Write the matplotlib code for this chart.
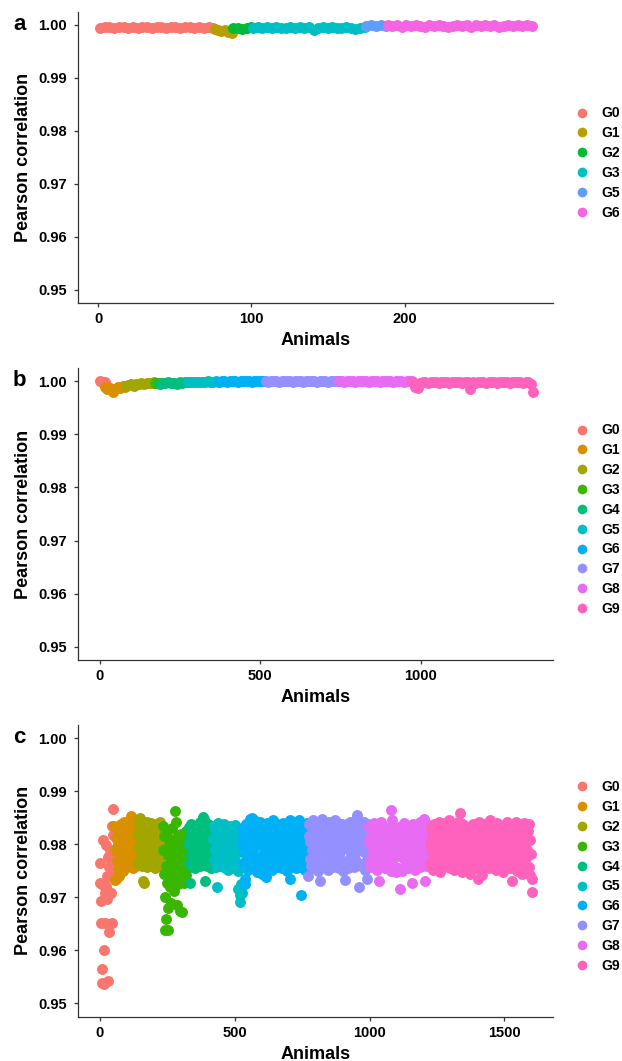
import numpy as np
import matplotlib
matplotlib.use("Agg")
import matplotlib.pyplot as plt
from matplotlib.lines import Line2D

plt.rcParams['font.family'] = ['Liberation Sans', 'DejaVu Sans']
plt.rcParams['font.weight'] = 'bold'

# ---------------- Panel a ----------------
a_groups = ["G0", "G1", "G2", "G3", "G5", "G6"]
a_start = [1, 76, 88, 101, 175, 189]
a_end = [75, 87, 100, 174, 188, 283]
a_G0 = [0.9995, 0.9997, 0.9996, 0.9994, 0.9996, 0.9997, 0.9995, 0.9996, 0.9994, 0.9997,
        0.9996, 0.9995, 0.9997, 0.9996, 0.9994, 0.9996, 0.9997, 0.9995, 0.9996, 0.9997,
        0.9995, 0.9996, 0.9994, 0.9996, 0.9995]
a_G1 = [0.9993, 0.9991, 0.9989, 0.9990, 0.9987, 0.9985]
a_G2 = [0.9994, 0.9995, 0.9993, 0.9995, 0.9996]
a_G3 = [0.9995, 0.9996, 0.9994, 0.9996, 0.9995, 0.9997, 0.9995, 0.9994, 0.9996, 0.9995,
        0.9997, 0.9995, 0.9996, 0.9991, 0.9994, 0.9996, 0.9995, 0.9997, 0.9995, 0.9994,
        0.9996, 0.9995, 0.9993, 0.9995, 0.9996]
a_G5 = [0.9998, 0.9999, 0.9998, 0.9999, 0.9998]
a_G6 = [0.9999, 0.9998, 0.9999, 0.9997, 0.9999, 0.9998, 0.9999, 0.9998, 0.9997, 0.9999,
        0.9998, 0.9999, 0.9998, 0.9996, 0.9998, 0.9999, 0.9998, 0.9999, 0.9997, 0.9999,
        0.9998, 0.9999, 0.9998, 0.9999, 0.9997, 0.9998, 0.9999, 0.9998, 0.9999, 0.9998,
        0.9999, 0.9998]
a_values = [a_G0, a_G1, a_G2, a_G3, a_G5, a_G6]
a_colors = ["#F8766D", "#B79F00", "#00BA38", "#00BFC4", "#619CFF", "#F564E3"]

# ---------------- Panel b ----------------
b_groups = ["G0", "G1", "G2", "G3", "G4", "G5", "G6", "G7", "G8", "G9"]
b_start = [1, 16, 81, 171, 187, 276, 371, 516, 745, 973]
b_end = [15, 80, 170, 186, 275, 370, 515, 744, 972, 1350]
b_G0 = [1.0000, 0.9999, 0.9998]
b_G1 = [0.9990, 0.9986, 0.9988, 0.9979, 0.9985, 0.9989, 0.9987, 0.9991, 0.9990]
b_G2 = [0.9991, 0.9993, 0.9994, 0.9992, 0.9995, 0.9994, 0.9996, 0.9995, 0.9997, 0.9996,
        0.9997, 0.9998]
b_G3 = [0.9996, 0.9997, 0.9996]
b_G4 = [0.9995, 0.9997, 0.9996, 0.9998, 0.9996, 0.9997, 0.9995, 0.9998, 0.9997, 0.9998,
        0.9999]
b_G5 = [0.9998, 0.9999, 0.9998, 0.9999, 0.9999, 0.9998, 0.9999, 1.0000, 0.9999, 0.9999,
        1.0000, 0.9999]
b_G6 = [0.9999, 1.0000, 1.0000, 0.9999, 1.0000, 1.0000, 1.0000, 0.9999, 1.0000, 1.0000,
        1.0000, 1.0000, 0.9999, 1.0000, 1.0000, 1.0000, 1.0000, 1.0000]
b_G7 = [1.0000, 0.9999, 1.0000, 1.0000, 1.0000, 0.9999, 1.0000, 1.0000, 1.0000, 1.0000,
        0.9999, 1.0000, 1.0000, 1.0000, 0.9999, 1.0000, 1.0000, 1.0000, 1.0000, 0.9999,
        1.0000, 1.0000, 1.0000, 0.9999, 1.0000, 1.0000, 1.0000, 1.0000]
b_G8 = [1.0000, 1.0000, 0.9999, 1.0000, 1.0000, 1.0000, 0.9999, 1.0000, 1.0000, 1.0000,
        1.0000, 0.9999, 1.0000, 1.0000, 1.0000, 0.9999, 1.0000, 1.0000, 1.0000, 1.0000,
        0.9999, 1.0000, 1.0000, 1.0000, 0.9999, 1.0000, 1.0000, 1.0000]
b_G9 = [0.9998, 0.9990, 0.9988, 0.9996, 0.9998, 0.9999, 0.9997, 0.9998, 0.9999, 0.9998,
        0.9997, 0.9999, 0.9998, 0.9999, 0.9997, 0.9998, 0.9999, 0.9998, 0.9999, 0.9997,
        0.9998, 0.9999, 0.9985, 0.9998, 0.9997, 0.9999, 0.9998, 0.9999, 0.9997, 0.9998,
        0.9999, 0.9998, 0.9997, 0.9999, 0.9998, 0.9999, 0.9998, 0.9997, 0.9999, 0.9998,
        0.9999, 0.9998, 0.9997, 0.9999, 0.9998, 0.9995, 0.9979]
b_values = [b_G0, b_G1, b_G2, b_G3, b_G4, b_G5, b_G6, b_G7, b_G8, b_G9]

# ---------------- Panel c ----------------
c_groups = b_groups
c_start = [1, 53, 141, 234, 327, 420, 526, 772, 997, 1223]
c_end = [52, 140, 233, 326, 419, 530, 771, 996, 1222, 1603]
c_G0 = [0.9765, 0.9727, 0.9693, 0.9651, 0.9564, 0.9539, 0.9724, 0.9809, 0.9600, 0.9536,
        0.9708, 0.9651, 0.9799, 0.9721, 0.9696, 0.9740, 0.9777, 0.9542, 0.9711, 0.9758,
        0.9635, 0.9790, 0.9740, 0.9708, 0.9771, 0.9652, 0.9834, 0.9866, 0.9818, 0.9790]
c_G1 = [0.9835, 0.9732, 0.9790, 0.9812, 0.9735, 0.9768, 0.9828, 0.9752, 0.9800, 0.9740,
        0.9783, 0.9822, 0.9760, 0.9808, 0.9838, 0.9775, 0.9795, 0.9750, 0.9818, 0.9842,
        0.9770, 0.9805, 0.9765, 0.9826, 0.9788, 0.9758, 0.9815, 0.9798, 0.9834, 0.9772,
        0.9848, 0.9853, 0.9762, 0.9790, 0.9830, 0.9756, 0.9810, 0.9780, 0.9840, 0.9768,
        0.9802, 0.9825, 0.9760, 0.9793, 0.9836]
c_G2 = [0.9820, 0.9765, 0.9795, 0.9838, 0.9850, 0.9778, 0.9810, 0.9760, 0.9830, 0.9788,
        0.9730, 0.9727, 0.9790, 0.9835, 0.9770, 0.9805, 0.9842, 0.9758, 0.9800, 0.9825,
        0.9768, 0.9815, 0.9782, 0.9840, 0.9762, 0.9798, 0.9828, 0.9775, 0.9812, 0.9838,
        0.9756, 0.9792, 0.9822, 0.9770, 0.9808, 0.9835, 0.9764, 0.9785, 0.9818, 0.9842,
        0.9772, 0.9802, 0.9832, 0.9760, 0.9815]
c_G3 = [0.9835, 0.9790, 0.9745, 0.9815, 0.9700, 0.9639, 0.9659, 0.9760, 0.9825, 0.9728,
        0.9780, 0.9639, 0.9680, 0.9798, 0.9740, 0.9810, 0.9720, 0.9770, 0.9690, 0.9752,
        0.9830, 0.9735, 0.9795, 0.9765, 0.9712, 0.9805, 0.9748, 0.9862, 0.9842, 0.9735,
        0.9685, 0.9780, 0.9818, 0.9725, 0.9760, 0.9790, 0.9750, 0.9675, 0.9820, 0.9738,
        0.9672, 0.9765, 0.9800, 0.9740, 0.9785, 0.9728, 0.9812, 0.9755, 0.9770, 0.9825,
        0.9742, 0.9795, 0.9760, 0.9808]
c_G4 = [0.9800, 0.9832, 0.9765, 0.9815, 0.9728, 0.9780, 0.9838, 0.9758, 0.9808, 0.9790,
        0.9825, 0.9770, 0.9835, 0.9755, 0.9812, 0.9785, 0.9830, 0.9762, 0.9798, 0.9820,
        0.9775, 0.9842, 0.9760, 0.9805, 0.9788, 0.9828, 0.9768, 0.9852, 0.9848, 0.9815,
        0.9730, 0.9775, 0.9820, 0.9795, 0.9760, 0.9838, 0.9805, 0.9772, 0.9826, 0.9785,
        0.9756, 0.9810, 0.9834, 0.9766, 0.9798]
c_G5 = [0.9810, 0.9770, 0.9835, 0.9790, 0.9758, 0.9825, 0.9720, 0.9800, 0.9840, 0.9765,
        0.9815, 0.9782, 0.9832, 0.9760, 0.9805, 0.9828, 0.9775, 0.9795, 0.9838, 0.9755,
        0.9812, 0.9768, 0.9822, 0.9790, 0.9752, 0.9808, 0.9780, 0.9834, 0.9762, 0.9798,
        0.9826, 0.9772, 0.9815, 0.9756, 0.9792, 0.9836, 0.9766, 0.9802, 0.9820, 0.9750,
        0.9715, 0.9786, 0.9705, 0.9692, 0.9812, 0.9725, 0.9708, 0.9760]
c_G6 = [0.9800, 0.9830, 0.9765, 0.9815, 0.9785, 0.9735, 0.9725, 0.9838, 0.9770, 0.9808,
        0.9752, 0.9825, 0.9795, 0.9760, 0.9848, 0.9780, 0.9820, 0.9850, 0.9790, 0.9812,
        0.9758, 0.9845, 0.9772, 0.9832, 0.9768, 0.9805, 0.9748, 0.9828, 0.9775, 0.9815,
        0.9842, 0.9760, 0.9798, 0.9835, 0.9745, 0.9810, 0.9782, 0.9826, 0.9755, 0.9802,
        0.9738, 0.9840, 0.9772, 0.9818, 0.9792, 0.9830, 0.9762, 0.9808, 0.9785, 0.9836,
        0.9752, 0.9845, 0.9800, 0.9770, 0.9822, 0.9765, 0.9812, 0.9790, 0.9838, 0.9758,
        0.9828, 0.9780, 0.9815, 0.9765, 0.9832, 0.9795, 0.9755, 0.9820, 0.9776, 0.9840,
        0.9805, 0.9760, 0.9826, 0.9788, 0.9812, 0.9750, 0.9798, 0.9835, 0.9770, 0.9845,
        0.9735, 0.9808, 0.9784, 0.9824, 0.9762, 0.9800, 0.9838, 0.9772, 0.9815, 0.9756,
        0.9792, 0.9830, 0.9766, 0.9810, 0.9845, 0.9780, 0.9822, 0.9758, 0.9705, 0.9802,
        0.9836, 0.9768, 0.9815, 0.9790, 0.9752, 0.9828, 0.9775, 0.9808, 0.9840, 0.9762]
c_G7 = [0.9740, 0.9815, 0.9838, 0.9772, 0.9805, 0.9760, 0.9828, 0.9790, 0.9845, 0.9755,
        0.9820, 0.9785, 0.9810, 0.9765, 0.9835, 0.9795, 0.9750, 0.9826, 0.9778, 0.9842,
        0.9730, 0.9802, 0.9768, 0.9848, 0.9812, 0.9758, 0.9825, 0.9788, 0.9838, 0.9762,
        0.9808, 0.9832, 0.9752, 0.9800, 0.9842, 0.9770, 0.9818, 0.9788, 0.9835, 0.9765,
        0.9812, 0.9758, 0.9828, 0.9780, 0.9845, 0.9795, 0.9760, 0.9822, 0.9775, 0.9840,
        0.9805, 0.9755, 0.9830, 0.9785, 0.9815, 0.9768, 0.9838, 0.9798, 0.9750, 0.9825,
        0.9732, 0.9802, 0.9822, 0.9768, 0.9838, 0.9792, 0.9755, 0.9815, 0.9775, 0.9842,
        0.9810, 0.9762, 0.9832, 0.9785, 0.9800, 0.9758, 0.9828, 0.9772, 0.9845, 0.9808,
        0.9855, 0.9850, 0.9765, 0.9818, 0.9720, 0.9790, 0.9835, 0.9760, 0.9808, 0.9762,
        0.9830, 0.9785, 0.9842, 0.9752, 0.9818, 0.9795, 0.9770, 0.9735, 0.9798, 0.9838]
c_G8 = [0.9805, 0.9832, 0.9768, 0.9815, 0.9758, 0.9790, 0.9825, 0.9775, 0.9840, 0.9810,
        0.9762, 0.9795, 0.9838, 0.9752, 0.9820, 0.9785, 0.9730, 0.9828, 0.9770, 0.9808,
        0.9842, 0.9760, 0.9798, 0.9835, 0.9778, 0.9815, 0.9755, 0.9830, 0.9812, 0.9788,
        0.9820, 0.9765, 0.9800, 0.9830, 0.9772, 0.9812, 0.9750, 0.9865, 0.9845, 0.9782,
        0.9792, 0.9822, 0.9760, 0.9805, 0.9748, 0.9828, 0.9778, 0.9815, 0.9755, 0.9798,
        0.9832, 0.9715, 0.9808, 0.9785, 0.9825, 0.9750, 0.9812, 0.9772, 0.9840, 0.9792,
        0.9760, 0.9828, 0.9780, 0.9818, 0.9755, 0.9802, 0.9835, 0.9768, 0.9810, 0.9788,
        0.9728, 0.9822, 0.9762, 0.9838, 0.9795, 0.9752, 0.9815, 0.9775, 0.9832, 0.9805,
        0.9765, 0.9825, 0.9785, 0.9842, 0.9758, 0.9812, 0.9795, 0.9770, 0.9835, 0.9802,
        0.9848, 0.9842, 0.9730, 0.9760, 0.9825, 0.9775, 0.9810, 0.9790, 0.9762, 0.9818]
c_G9 = [0.9800, 0.9765, 0.9830, 0.9785, 0.9818, 0.9752, 0.9808, 0.9838, 0.9772, 0.9825,
        0.9790, 0.9760, 0.9835, 0.9812, 0.9778, 0.9842, 0.9805, 0.9748, 0.9822, 0.9795,
        0.9768, 0.9840, 0.9815, 0.9782, 0.9758, 0.9832, 0.9802, 0.9775, 0.9828, 0.9762,
        0.9810, 0.9845, 0.9790, 0.9755, 0.9822, 0.9765, 0.9805, 0.9838, 0.9780, 0.9815,
        0.9752, 0.9798, 0.9830, 0.9770, 0.9812, 0.9785, 0.9842, 0.9760, 0.9808, 0.9825,
        0.9860, 0.9840, 0.9775, 0.9818, 0.9748, 0.9792, 0.9836, 0.9768, 0.9805, 0.9782,
        0.9758, 0.9820, 0.9795, 0.9832, 0.9770, 0.9810, 0.9745, 0.9828, 0.9788, 0.9815,
        0.9762, 0.9838, 0.9800, 0.9778, 0.9822, 0.9755, 0.9808, 0.9835, 0.9785, 0.9735,
        0.9818, 0.9765, 0.9842, 0.9798, 0.9750, 0.9826, 0.9775, 0.9742, 0.9812, 0.9790,
        0.9838, 0.9760, 0.9805, 0.9830, 0.9772, 0.9815, 0.9782, 0.9825, 0.9756, 0.9800,
        0.9845, 0.9768, 0.9812, 0.9788, 0.9835, 0.9762, 0.9808, 0.9778, 0.9822, 0.9752,
        0.9795, 0.9840, 0.9770, 0.9815, 0.9785, 0.9830, 0.9758, 0.9802, 0.9826, 0.9765,
        0.9810, 0.9748, 0.9836, 0.9790, 0.9775, 0.9820, 0.9760, 0.9842, 0.9798, 0.9768,
        0.9815, 0.9782, 0.9832, 0.9755, 0.9805, 0.9772, 0.9730, 0.9825, 0.9788, 0.9838,
        0.9762, 0.9812, 0.9795, 0.9842, 0.9750, 0.9822, 0.9778, 0.9808, 0.9835, 0.9768,
        0.9800, 0.9828, 0.9745, 0.9815, 0.9785, 0.9840, 0.9760, 0.9805, 0.9830, 0.9775,
        0.9812, 0.9790, 0.9825, 0.9758, 0.9838, 0.9742, 0.9808, 0.9782, 0.9735, 0.9710]
c_values = [c_G0, c_G1, c_G2, c_G3, c_G4, c_G5, c_G6, c_G7, c_G8, c_G9]
bc_colors = ["#F8766D", "#D89000", "#A3A500", "#39B600", "#00BF7D",
             "#00BFC4", "#00B0F6", "#9590FF", "#E76BF3", "#FF62BC"]

y_ticks = [0.95, 0.96, 0.97, 0.98, 0.99, 1.00]
y_ticklabels = ["0.95", "0.96", "0.97", "0.98", "0.99", "1.00"]

W, H = 622, 1061
fig = plt.figure(figsize=(W / 100, H / 100), dpi=100)

panels = [
    dict(letter="a", groups=a_groups, start=a_start, end=a_end, values=a_values,
         colors=a_colors, xlim=(-13.1, 297), xticks=[0, 100, 200],
         top_px=11.7, bottom_px=303),
    dict(letter="b", groups=b_groups, start=b_start, end=b_end, values=b_values,
         colors=bc_colors, xlim=(-66.5, 1411), xticks=[0, 500, 1000],
         top_px=368, bottom_px=660),
    dict(letter="c", groups=c_groups, start=c_start, end=c_end, values=c_values,
         colors=bc_colors, xlim=(-79, 1680), xticks=[0, 500, 1000, 1500],
         top_px=725, bottom_px=1016.7),
]

left_px, right_px = 78.4, 553
axis_color = "#333333"
ms = 62

for p in panels:
    ax = fig.add_axes([left_px / W, 1 - p["bottom_px"] / H,
                       (right_px - left_px) / W, (p["bottom_px"] - p["top_px"]) / H])
    handles = []
    for g, s, e, vals, col in zip(p["groups"], p["start"], p["end"], p["values"], p["colors"]):
        x = np.linspace(s, e, len(vals))
        ax.scatter(x, vals, s=ms, color=col, linewidths=0, zorder=3)
        handles.append(Line2D([], [], marker="o", linestyle="none", markersize=7.0,
                              markerfacecolor=col, markeredgewidth=0, label=g))
    ax.set_xlim(*p["xlim"])
    ax.set_ylim(0.9475, 1.0025)
    ax.set_xticks(p["xticks"])
    ax.set_xticklabels([str(t) for t in p["xticks"]])
    ax.set_yticks(y_ticks)
    ax.set_yticklabels(y_ticklabels)
    for side in ["top", "right"]:
        ax.spines[side].set_visible(False)
    for side in ["left", "bottom"]:
        ax.spines[side].set_color(axis_color)
        ax.spines[side].set_linewidth(0.9)
    ax.tick_params(axis="both", direction="out", length=3, width=0.9, color=axis_color,
                   labelsize=10.5, labelcolor="black")
    ax.tick_params(axis="y", pad=5.5)
    ax.tick_params(axis="x", pad=3.5)
    for lbl in ax.get_xticklabels() + ax.get_yticklabels():
        lbl.set_fontweight("bold")
    ax.set_xlabel("Animals", fontsize=13, fontweight="bold", labelpad=4.5)
    ax.set_ylabel("Pearson correlation", fontsize=13, fontweight="bold", labelpad=4)

    center_px = (p["top_px"] + p["bottom_px"]) / 2 + 5.7
    ax.legend(handles=handles, loc="center left", frameon=False,
              bbox_to_anchor=(574.8 / W, 1 - center_px / H),
              bbox_transform=fig.transFigure, borderaxespad=0, borderpad=0,
              handlelength=1.0, handletextpad=0.93, labelspacing=0.42,
              prop=dict(size=10, weight="bold"))

    tick_px = p["top_px"] + (1.0025 - 1.0) / 0.055 * (p["bottom_px"] - p["top_px"])
    fig.text(13 / W, 1 - (tick_px + 5) / H, p["letter"], fontsize=16,
             fontweight="bold", ha="left", va="baseline")

fig.savefig("out.png", dpi=100)
